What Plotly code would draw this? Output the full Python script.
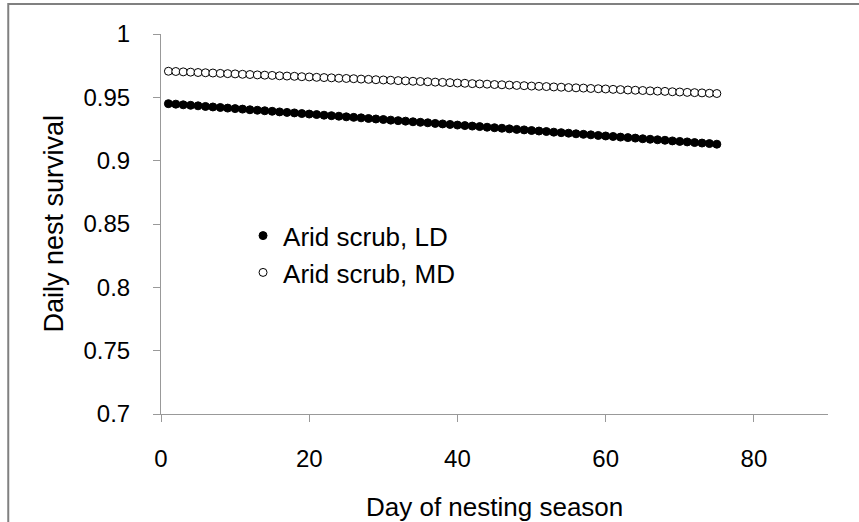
import plotly.graph_objects as go

days = list(range(1, 76))

arid_ld = [
    0.9450, 0.9446, 0.9441, 0.9437, 0.9433, 0.9428, 0.9424, 0.9420, 0.9415, 0.9411,
    0.9407, 0.9402, 0.9398, 0.9394, 0.9390, 0.9385, 0.9381, 0.9377, 0.9372, 0.9368,
    0.9364, 0.9359, 0.9355, 0.9351, 0.9346, 0.9342, 0.9338, 0.9333, 0.9329, 0.9325,
    0.9320, 0.9316, 0.9312, 0.9307, 0.9303, 0.9299, 0.9294, 0.9290, 0.9286, 0.9281,
    0.9277, 0.9273, 0.9269, 0.9264, 0.9260, 0.9256, 0.9251, 0.9247, 0.9243, 0.9238,
    0.9234, 0.9230, 0.9225, 0.9221, 0.9217, 0.9212, 0.9208, 0.9204, 0.9199, 0.9195,
    0.9191, 0.9186, 0.9182, 0.9178, 0.9173, 0.9169, 0.9165, 0.9161, 0.9156, 0.9152,
    0.9148, 0.9143, 0.9139, 0.9135, 0.9130,
]

arid_md = [
    0.9706, 0.9704, 0.9701, 0.9699, 0.9696, 0.9694, 0.9692, 0.9689, 0.9687, 0.9685,
    0.9682, 0.9680, 0.9677, 0.9675, 0.9673, 0.9670, 0.9668, 0.9666, 0.9663, 0.9661,
    0.9658, 0.9656, 0.9654, 0.9651, 0.9649, 0.9647, 0.9644, 0.9642, 0.9639, 0.9637,
    0.9635, 0.9632, 0.9630, 0.9627, 0.9625, 0.9623, 0.9620, 0.9618, 0.9616, 0.9613,
    0.9611, 0.9608, 0.9606, 0.9604, 0.9601, 0.9599, 0.9597, 0.9594, 0.9592, 0.9589,
    0.9587, 0.9585, 0.9582, 0.9580, 0.9577, 0.9575, 0.9573, 0.9570, 0.9568, 0.9566,
    0.9563, 0.9561, 0.9558, 0.9556, 0.9554, 0.9551, 0.9549, 0.9547, 0.9544, 0.9542,
    0.9539, 0.9537, 0.9535, 0.9532, 0.9530,
]

x_ticks = [0, 20, 40, 60, 80]
y_ticks = [0.7, 0.75, 0.8, 0.85, 0.9, 0.95, 1.0]
y_ticktext = ["0.7", "0.75", "0.8", "0.85", "0.9", "0.95", "1"]

FONT = "Liberation Sans, Arial, sans-serif"
AXIS_GRAY = "#999999"

fig = go.Figure()
fig.add_trace(go.Scatter(
    x=days, y=arid_ld, mode="markers", name="Arid scrub, LD",
    marker=dict(symbol="circle", size=8, color="black",
                line=dict(color="black", width=1)),
))
fig.add_trace(go.Scatter(
    x=days, y=arid_md, mode="markers", name="Arid scrub, MD",
    marker=dict(symbol="circle", size=8, color="white",
                line=dict(color="black", width=1)),
))

fig.update_layout(
    width=859, height=522,
    margin=dict(l=161, r=31, t=34, b=108),
    paper_bgcolor="white", plot_bgcolor="white",
    font=dict(family=FONT, size=24, color="black"),
    showlegend=True,
    legend=dict(x=0.123, y=0.531, xanchor="left", yanchor="top",
                bgcolor="rgba(0,0,0,0)", font=dict(size=26),
                itemsizing="trace", tracegroupgap=0),
    xaxis=dict(range=[0, 90], tickvals=x_ticks, showgrid=False, zeroline=False,
               showline=True, linecolor=AXIS_GRAY, linewidth=1,
               ticks="outside", ticklen=7, tickcolor=AXIS_GRAY,
               ticklabelstandoff=16, tickfont=dict(size=24)),
    yaxis=dict(range=[0.7, 1.0], tickvals=y_ticks, ticktext=y_ticktext,
               showgrid=False, zeroline=False,
               showline=True, linecolor=AXIS_GRAY, linewidth=1,
               ticks="outside", ticklen=7, tickcolor=AXIS_GRAY,
               ticklabelstandoff=18, tickfont=dict(size=24)),
    annotations=[
        dict(text="Day of nesting season", xref="paper", yref="paper",
             x=0.5, y=-0.245, xanchor="center", yanchor="middle",
             showarrow=False, font=dict(size=26)),
        dict(text="Daily nest survival", xref="paper", yref="paper",
             x=-0.161, y=0.5, xanchor="center", yanchor="middle",
             textangle=-90, showarrow=False, font=dict(size=27)),
    ],
    shapes=[
        dict(type="rect", xref="paper", yref="paper",
             x0=-0.229, y0=-0.5, x1=1.3, y1=1.079,
             line=dict(color="#808080", width=2), fillcolor="rgba(0,0,0,0)",
             layer="below"),
    ],
)

fig.write_html("out.html")
